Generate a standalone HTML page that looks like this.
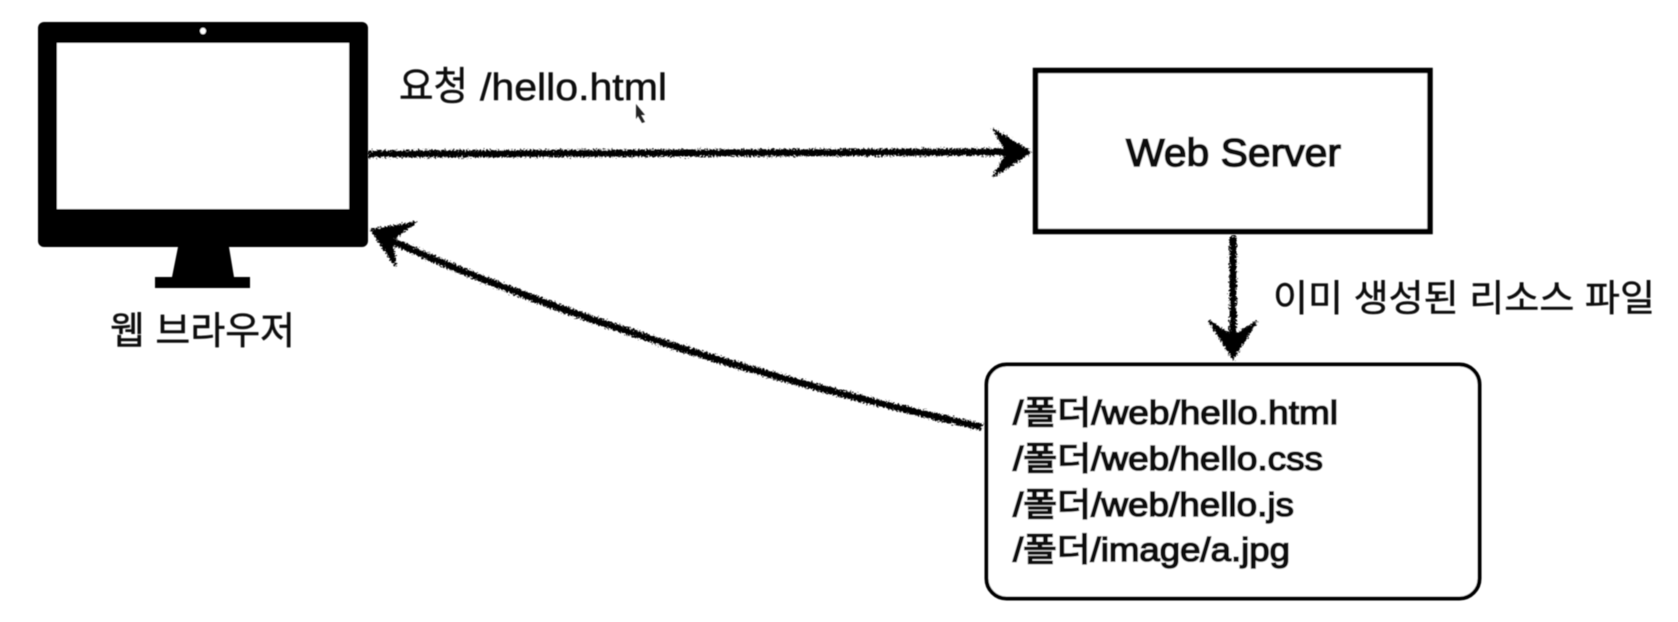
<!DOCTYPE html>
<html><head><meta charset="utf-8"><style>
html,body{margin:0;padding:0;background:#fff;width:1678px;height:622px;overflow:hidden}
svg{display:block}
text{font-family:"Liberation Sans","Noto Sans CJK KR",sans-serif;fill:#0c0c0c}
.l{stroke:#111;stroke-width:.5px}
.m{stroke:#0c0c0c;stroke-width:1.5px}
</style></head><body>
<svg width="1678" height="622" viewBox="0 0 1678 622" xmlns="http://www.w3.org/2000/svg">
<defs>
<filter id="rough" x="0" y="0" width="1678" height="622" filterUnits="userSpaceOnUse" primitiveUnits="userSpaceOnUse">
<feTurbulence type="fractalNoise" baseFrequency="0.6" numOctaves="2" seed="4"/>
<feDisplacementMap in="SourceGraphic" scale="7" xChannelSelector="R" yChannelSelector="G"/>
<feGaussianBlur stdDeviation="0.5"/>
</filter>
<filter id="soft"><feGaussianBlur stdDeviation="0.55"/></filter>
</defs>
<g filter="url(#soft)">
<!-- monitor -->
<rect x="38" y="22" width="330" height="225" rx="6" fill="#000"/>
<rect x="57" y="43" width="292" height="166" fill="#fff"/>
<ellipse cx="203" cy="31" rx="3" ry="3.2" fill="#fff"/>
<polygon points="178,247 229,247 234,277 250,277 250,288 155,288 155,277 172,277" fill="#000"/>
<!-- web server box -->
<rect x="1035.5" y="70.5" width="394.5" height="161" fill="#fff" stroke="#000" stroke-width="5.5"/>
<!-- resource box -->
<rect x="986.5" y="364.5" width="493" height="234" rx="20" fill="#fff" stroke="#000" stroke-width="4"/>
<!-- text -->
<text class="l" x="399" y="100" font-size="39" textLength="69" lengthAdjust="spacingAndGlyphs">요청</text>
<text class="l" x="480" y="100" font-size="38" textLength="187" lengthAdjust="spacingAndGlyphs">/hello.html</text>
<text class="l" x="110" y="344" font-size="38" textLength="185" lengthAdjust="spacingAndGlyphs">웹 브라우저</text>
<text class="m" x="1126" y="166" font-size="39" textLength="215" lengthAdjust="spacingAndGlyphs">Web Server</text>
<text class="l" x="1273" y="311" font-size="37" textLength="382" lengthAdjust="spacingAndGlyphs">이미 생성된 리소스 파일</text>
<text class="m" x="1013" y="424" font-size="33" textLength="325" lengthAdjust="spacingAndGlyphs">/폴더/web/hello.html</text>
<text class="m" x="1013" y="470" font-size="33" textLength="310" lengthAdjust="spacingAndGlyphs">/폴더/web/hello.css</text>
<text class="m" x="1013" y="516" font-size="33" textLength="281" lengthAdjust="spacingAndGlyphs">/폴더/web/hello.js</text>
<text class="m" x="1013" y="561" font-size="33" textLength="277" lengthAdjust="spacingAndGlyphs">/폴더/image/a.jpg</text>
<!-- cursor -->
<polygon points="636,104 645,115 641,115 645,122 642,123 638,116 636,119" fill="#222"/>
</g>
<!-- sketch arrows -->
<g filter="url(#rough)" fill="none" stroke="#000" stroke-linecap="butt" stroke-linejoin="miter">
<path d="M368 154 L1010 152" stroke-width="7"/>
<path d="M1031 152 L993 129 L1007 152 L993 177 Z" fill="#000" stroke-width="1.5"/>
<path d="M1233 236 L1233 340" stroke-width="7"/>
<path d="M1233 359 L1209 321 L1233 336 L1257 321 Z" fill="#000" stroke-width="1.5"/>
<path d="M982 427 Q640 352 385 238" stroke-width="7"/>
<path d="M371 230 L416 222 L392 240 L396 267 Z" fill="#000" stroke-width="1.5"/>
</g>
</svg>
</body></html>
